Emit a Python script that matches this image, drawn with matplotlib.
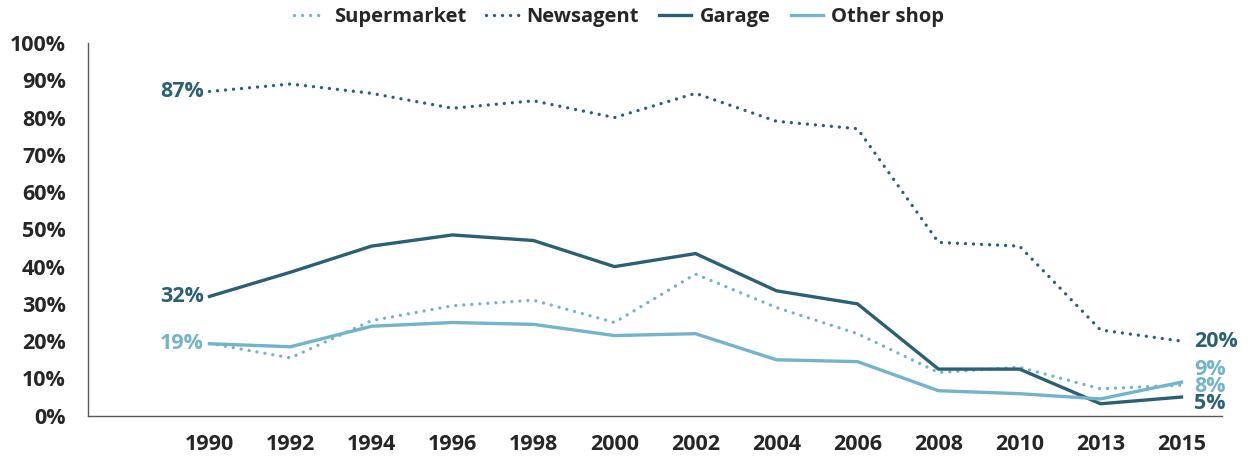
import matplotlib
matplotlib.use('Agg')
import matplotlib.pyplot as plt
from matplotlib.ticker import PercentFormatter

plt.rcParams['font.family'] = ['Open Sans', 'DejaVu Sans']
plt.rcParams['font.weight'] = 'bold'

# data (percent)
years = ['1990', '1992', '1994', '1996', '1998', '2000', '2002',
         '2004', '2006', '2008', '2010', '2013', '2015']
supermarket = [19.4, 15.5, 25.5, 29.5, 31, 25, 38, 29, 22, 11.6, 13, 7.2, 8.2]
newsagent = [87, 89, 86.5, 82.5, 84.5, 80, 86.5, 79, 77, 46.5, 45.5, 23, 20]
garage = [32, 38.5, 45.5, 48.5, 47, 40, 43.5, 33.5, 30, 12.5, 12.5, 3.2, 5]
other_shop = [19.3, 18.5, 24, 25, 24.5, 21.5, 22, 15, 14.5, 6.7, 5.9, 4.5, 9]

dark = '#2b6074'
light = '#72b4cb'
txt = '#262626'
dots = (0, (0.01, 2.4))

fig = plt.figure(figsize=(12.5, 4.63), dpi=100)
ax = fig.add_axes([0.0704, 0.1022, 0.9072, 0.8049])

x = range(len(years))
ax.plot(x, supermarket, color=light, lw=2.4, ls=dots, dash_capstyle='round', label='Supermarket')
ax.plot(x, newsagent, color=dark, lw=2.4, ls=dots, dash_capstyle='round', label='Newsagent')
ax.plot(x, garage, color=dark, lw=2.4, label='Garage')
ax.plot(x, other_shop, color=light, lw=2.4, label='Other shop')

# end labels
for vals, col in [(newsagent, dark), (garage, dark), (other_shop, light)]:
    ax.annotate(f'{round(vals[0])}%', (0, vals[0]), xytext=(-4, 0), textcoords='offset points',
                ha='right', va='center', color=col, fontsize=15.5)
last = len(years) - 1
for v, col, dy in [(newsagent[-1], dark, 0), (other_shop[-1], light, 9),
                   (supermarket[-1], light, -1), (garage[-1], dark, -5)]:
    ax.annotate(f'{round(v)}%', (last, v), xytext=(9, dy), textcoords='offset points',
                ha='left', va='center', color=col, fontsize=15.5)

ax.set_xlim(-1.5, 12.5)
ax.set_ylim(0, 100)
ax.set_yticks(range(0, 101, 10))
ax.yaxis.set_major_formatter(PercentFormatter(decimals=0))
ax.set_xticks(list(x))
ax.set_xticklabels(years)
ax.tick_params(length=0, labelsize=15.5, labelcolor=txt)
ax.tick_params(axis='x', pad=13)
ax.tick_params(axis='y', pad=16)
for s in ['top', 'right']:
    ax.spines[s].set_visible(False)
for s in ['left', 'bottom']:
    ax.spines[s].set_color('#595959')
    ax.spines[s].set_linewidth(1)

leg = fig.legend(loc='upper center', bbox_to_anchor=(0.495, 1.025), ncol=4, frameon=False,
                 fontsize=14.5, handlelength=1.6, handletextpad=0.4, columnspacing=1.0)
for t in leg.get_texts():
    t.set_color(txt)

fig.savefig('out.png', dpi=100)
